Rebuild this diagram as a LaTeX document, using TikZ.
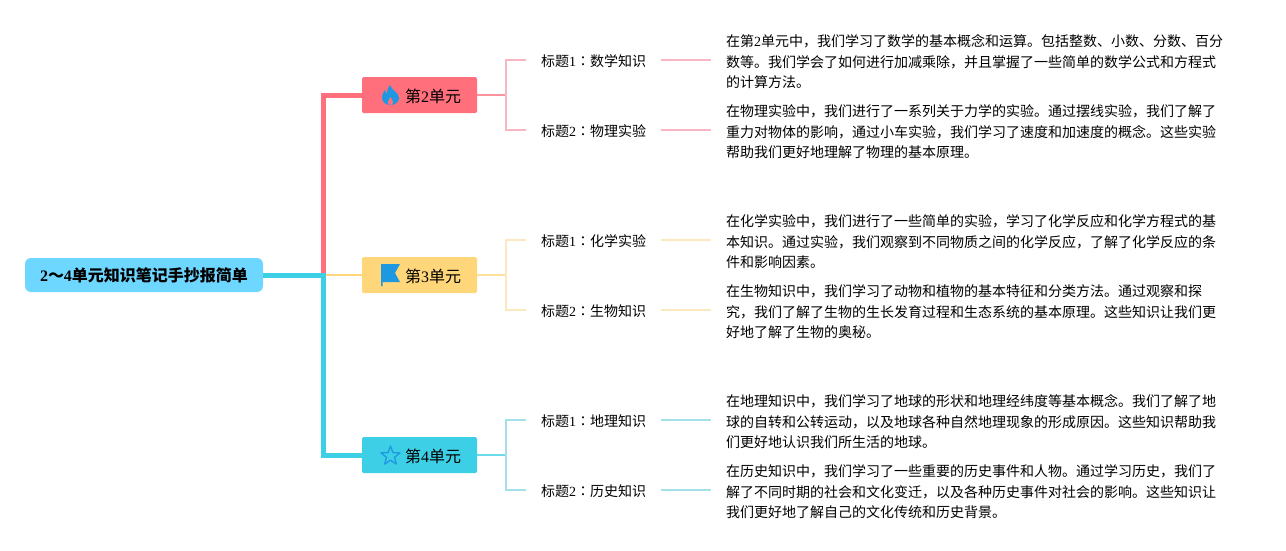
\documentclass[tikz,border=0pt]{standalone}
\usepackage{fontspec}
\setmainfont{Noto Sans CJK SC}
\newfontfamily\numfont{Liberation Serif}
\newfontfamily\colonfont{Noto Sans CJK TC}
\usetikzlibrary{shapes.geometric}
\newcommand{\dg}[1]{{\numfont #1}}
\newcommand{\cln}{{\colonfont ：}}
\definecolor{rootblue}{HTML}{6DD7FF}
\definecolor{iconblue}{HTML}{1E98E0}
\definecolor{unitred}{HTML}{FF6F7C}
\definecolor{unityellow}{HTML}{FFD679}
\definecolor{unitcyan}{HTML}{3CCFE6}
\definecolor{twigred}{HTML}{F7B6C2}
\definecolor{twigyellow}{HTML}{FBE8BE}
\definecolor{twigcyan}{HTML}{A3E0EA}
\tikzset{
	rootbox/.style={fill=rootblue,rounded corners=6pt,minimum width=238pt,minimum height=34pt,inner sep=0pt,text height=17pt,text depth=4pt,font=\fontsize{16pt}{20pt}\selectfont\bfseries},
	unitbox/.style={fill=#1,rounded corners=1.5pt,minimum width=115pt,minimum height=36pt,inner sep=0pt},
	unitlabel/.style={anchor=west,inner sep=0pt,font=\fontsize{16pt}{20pt}\selectfont},
	titlebox/.style={minimum width=135pt,minimum height=20pt,inner sep=0pt,text height=16pt,text depth=3pt,font=\fontsize{14pt}{20pt}\selectfont},
	notebox/.style={anchor=west,align=left,inner xsep=15pt,inner ysep=0pt,font=\fontsize{14pt}{20.5pt}\selectfont},
	trunk/.style={draw=#1,line width=5pt},
	stem/.style={draw=#1!75,line width=2pt},
	twig/.style={draw=#1,line width=2pt},
}
\begin{document}
\begin{tikzpicture}[x=1pt,y=-1pt]
	\useasboundingbox (0,0) rectangle (1286,550);
	\node[rootbox] (root) at (144,275) {\dg{2}～\dg{4}单元知识笔记手抄报简单};
	\coordinate (fork) at (323,275);
	\foreach \u/\y/\c in {2/95/unitred,3/275/unityellow,4/455/unitcyan} {
		\node[unitbox=\c] (unit\u) at (419.5,\y) {};
		\node[unitlabel] (label\u) at (405,\y+1) {第\dg{\u}单元};
		\coordinate (joint\u) at (506,\y);
	}
	% titles
	\node[titlebox] (title2a) at (593.5,60) {标题\dg{1}\cln 数学知识};
	\node[titlebox] (title2b) at (593.5,130) {标题\dg{2}\cln 物理实验};
	\node[titlebox] (title3a) at (593.5,240) {标题\dg{1}\cln 化学实验};
	\node[titlebox] (title3b) at (593.5,310) {标题\dg{2}\cln 生物知识};
	\node[titlebox] (title4a) at (593.5,420) {标题\dg{1}\cln 地理知识};
	\node[titlebox] (title4b) at (593.5,490) {标题\dg{2}\cln 历史知识};
	% notes
	\node[notebox] (note2a) at (711,62) {在第\dg{2}单元中，我们学习了数学的基本概念和运算。包括整数、小数、分数、百分\\数等。我们学会了如何进行加减乘除，并且掌握了一些简单的数学公式和方程式\\的计算方法。};
	\node[notebox] (note2b) at (711,132) {在物理实验中，我们进行了一系列关于力学的实验。通过摆线实验，我们了解了\\重力对物体的影响，通过小车实验，我们学习了速度和加速度的概念。这些实验\\帮助我们更好地理解了物理的基本原理。};
	\node[notebox] (note3a) at (711,242) {在化学实验中，我们进行了一些简单的实验，学习了化学反应和化学方程式的基\\本知识。通过实验，我们观察到不同物质之间的化学反应，了解了化学反应的条\\件和影响因素。};
	\node[notebox] (note3b) at (711,312) {在生物知识中，我们学习了动物和植物的基本特征和分类方法。通过观察和探\\究，我们了解了生物的生长发育过程和生态系统的基本原理。这些知识让我们更\\好地了解了生物的奥秘。};
	\node[notebox] (note4a) at (711,422) {在地理知识中，我们学习了地球的形状和地理经纬度等基本概念。我们了解了地\\球的自转和公转运动，以及地球各种自然地理现象的形成原因。这些知识帮助我\\们更好地认识我们所生活的地球。};
	\node[notebox] (note4b) at (711,492) {在历史知识中，我们学习了一些重要的历史事件和人物。通过学习历史，我们了\\解了不同时期的社会和文化变迁，以及各种历史事件对社会的影响。这些知识让\\我们更好地了解自己的文化传统和历史背景。};
	% trunks
	\draw[trunk=unitred] (fork) |- (unit2.west);
	\draw[draw=unityellow,line width=2pt] (fork) -- (unit3.west);
	\draw[trunk=unitcyan] (root.east) -- (fork) |- (unit4.west);
	% twigs
	\foreach \u/\c/\t in {2/unitred/twigred,3/unityellow/twigyellow,4/unitcyan/twigcyan} {
		\draw[stem=\c] (unit\u.east) -- (joint\u);
		\draw[twig=\t] (title\u a.west) -| (joint\u) |- (title\u b.west);
		\draw[twig=\t] (title\u a.east) -- (title\u a.east -| note\u a.west);
		\draw[twig=\t] (title\u b.east) -- (title\u b.east -| note\u b.west);
	}
	% icons
	\fill[iconblue] (390,85) .. controls (391,90) and (399,92) .. (399,98) .. controls (399,102) and (395,105) .. (390.5,105)
		.. controls (386,105) and (382,102) .. (382,98) .. controls (382,95) and (383,92) .. (385,90)
		.. controls (385.5,92) and (386,93) .. (387,93.5) .. controls (387,91) and (388,87) .. (390,85) -- cycle;
	\fill[unitred] (390.5,105) .. controls (388.5,105) and (387.5,103) .. (388,101.5) .. controls (388.5,100) and (390,99) .. (390.5,97)
		.. controls (391.5,99) and (393,100.5) .. (393,102) .. controls (393,104) and (392,105) .. (390.5,105) -- cycle;
	\fill[iconblue] (381,264) -- (400,264) -- (395,273) -- (400,282) -- (382.5,282) -- (382.5,286) -- (381,286) -- cycle;
	\node[star,star points=5,star point ratio=2.4,draw=iconblue,line width=1.3pt,line join=round,minimum size=20pt,inner sep=0pt] (star4) at (390.5,456) {};
\end{tikzpicture}
\end{document}
